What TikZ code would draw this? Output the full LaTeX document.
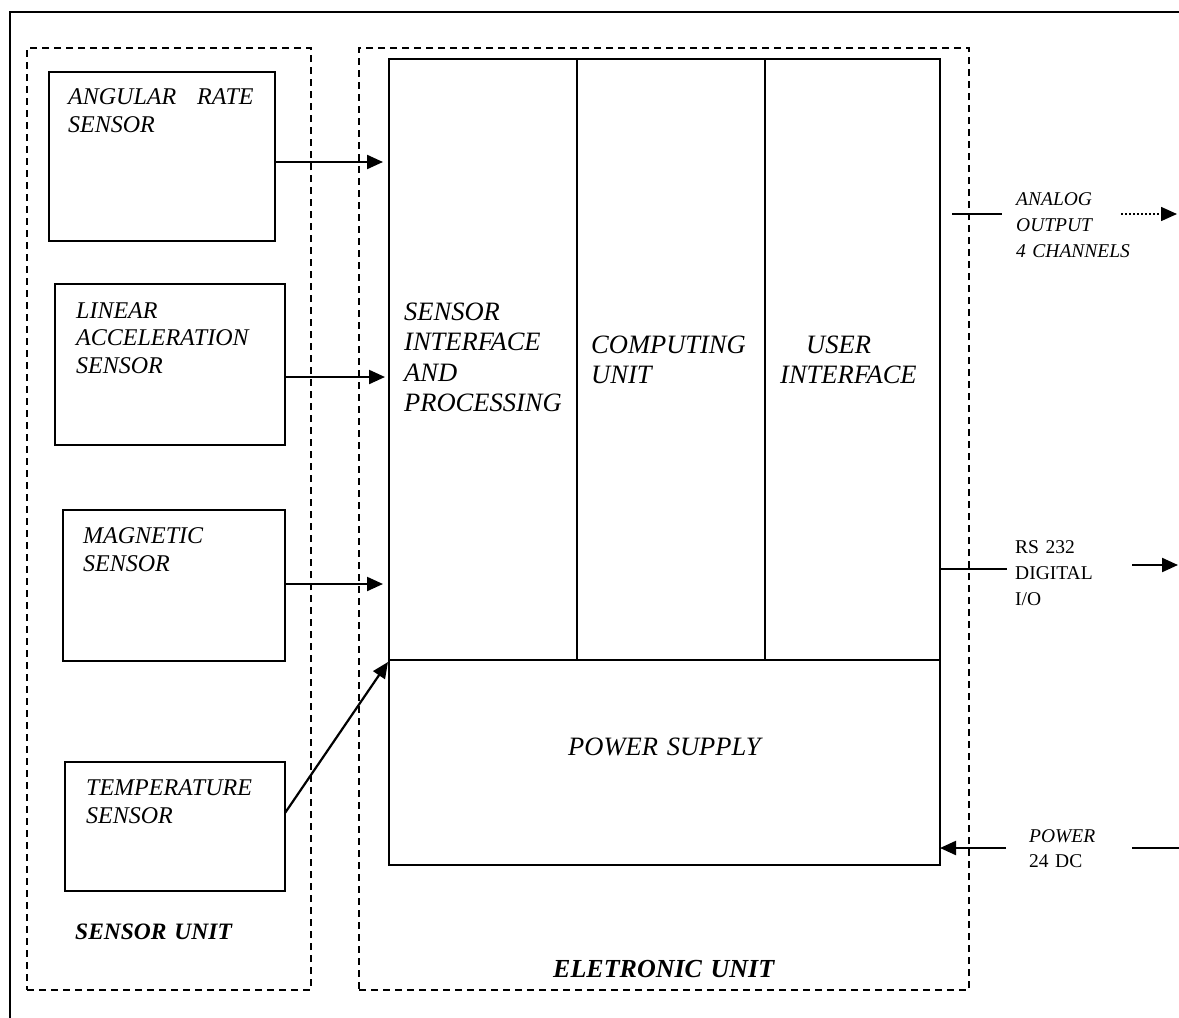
\documentclass[tikz,border=0pt]{standalone}
\usepackage{fontspec}
\setmainfont{Liberation Serif}
\usetikzlibrary{arrows.meta}
\begin{document}
\begin{tikzpicture}[x=1pt,y=-1pt,
  solidbox/.style={draw,line width=2pt,inner sep=0pt,outer sep=0pt},
  unitbox/.style={draw,line width=1.3pt,dash pattern=on 7pt off 5pt,inner sep=0pt,outer sep=0pt},
  lbl/.style={inner sep=0pt,anchor=base west,align=left,text width=#1},
  lbl/.default=300pt,
  senstxt/.style={lbl,font=\fontsize{24}{28.5}\selectfont\itshape},
  maintxt/.style={lbl,font=\fontsize{26.5}{30.5}\selectfont\itshape},
  unittxt/.style={lbl,font=\fontsize{#1}{28}\selectfont\bfseries\itshape},
  sidetxt/.style={lbl=160pt,font=\fontsize{19.5}{26}\selectfont},
  tip/.style={-{Triangle[length=16pt,width=14pt]}},
  conn/.style={line width=2.2pt,tip},
  thinline/.style={line width=1.4pt},
]
\useasboundingbox (0,0) rectangle (1179,1018);
% outer frame (cropped)
\draw[line width=2pt] (10,1018) -- (10,12) -- (1179,12);

% unit frames
\node[unitbox,minimum width=284pt,minimum height=942pt] (sunit) at (169,519) {};
\node[unitbox,minimum width=610pt,minimum height=942pt] (eunit) at (664,519) {};

% sensor boxes
\node[solidbox,minimum width=226pt,minimum height=169pt] (ang) at (162,156.5) {};
\node[solidbox,minimum width=230pt,minimum height=161pt] (lin) at (170,364.5) {};
\node[solidbox,minimum width=222pt,minimum height=151pt] (mag) at (174,585.5) {};
\node[solidbox,minimum width=220pt,minimum height=129pt] (temp) at (175,826.5) {};

% electronic unit blocks
\node[solidbox,minimum width=188pt,minimum height=601pt] (sip) at (483,359.5) {};
\node[solidbox,minimum width=188pt,minimum height=601pt] (comp) at (671,359.5) {};
\node[solidbox,minimum width=175pt,minimum height=601pt] (user) at (852.5,359.5) {};
\node[solidbox,minimum width=551pt,minimum height=205pt] (psu) at (664.5,762.5) {};

% labels
\node[senstxt] (angl) at (68,104) {ANGULAR\hspace{21pt}RATE\\SENSOR};
\node[senstxt,font=\fontsize{24}{27.5}\selectfont\itshape] (linl) at (76,318) {LINEAR\\ACCELERATION\\SENSOR};
\node[senstxt] (magl) at (83,543) {MAGNETIC\\SENSOR};
\node[senstxt] (templ) at (86,795) {TEMPERATURE\\SENSOR};

\node[maintxt] (sipl) at (404,320) {SENSOR\\INTERFACE\\AND\\PROCESSING};
\node[maintxt] (compl) at (591,353) {COMPUTING\\UNIT};
\node[maintxt] (userl) at (780,353) {\hspace*{26pt}USER\\INTERFACE};
\node[maintxt] (psul) at (568,755) {POWER SUPPLY};

\node[unittxt=23.5] (sunitl) at (75,939) {SENSOR UNIT};
\node[unittxt=26] (eunitl) at (553,977) {ELETRONIC UNIT};

\node[sidetxt] (aol) at (1016,205) {\itshape ANALOG\\\itshape OUTPUT\\\itshape 4 CHANNELS};
\node[sidetxt] (rsl) at (1015,553) {RS 232\\DIGITAL\\I/O};
\node[sidetxt,font=\fontsize{19.5}{25}\selectfont] (pwl) at (1029,842) {\textit{POWER}\\24 DC};

% connectors from sensors
\coordinate (angtip) at (383,162);
\coordinate (lintip) at (385,377);
\coordinate (magtip) at (383,584);
\coordinate (tempsrc) at (285,813);
\coordinate (temptip) at (388,662);
\draw[conn] (ang.east |- angtip) -- (angtip);
\draw[conn] (lin.east |- lintip) -- (lintip);
\draw[conn] (mag.east |- magtip) -- (magtip);
\draw[conn] (tempsrc) -- (temptip);

% outputs
\coordinate (aoA) at (952,214);
\coordinate (aoB) at (1002,214);
\coordinate (aoC) at (1121,214);
\coordinate (aoD) at (1177,214);
\draw[thinline] (aoA) -- (aoB);
\draw[line width=1.6pt,dash pattern=on 2pt off 2pt,tip] (aoC) -- (aoD);

\coordinate (rsA) at (1007,569);
\coordinate (rsB) at (1132,565);
\coordinate (rsC) at (1178,565);
\draw[thinline] (user.east |- rsA) -- (rsA);
\draw[conn] (rsB) -- (rsC);

\coordinate (pwA) at (1006,848);
\coordinate (pwB) at (1132,848);
\coordinate (pwC) at (1179,848);
\draw[conn] (pwA) -- (psu.east |- pwA);
\draw[thinline] (pwB) -- (pwC);
\end{tikzpicture}
\end{document}
